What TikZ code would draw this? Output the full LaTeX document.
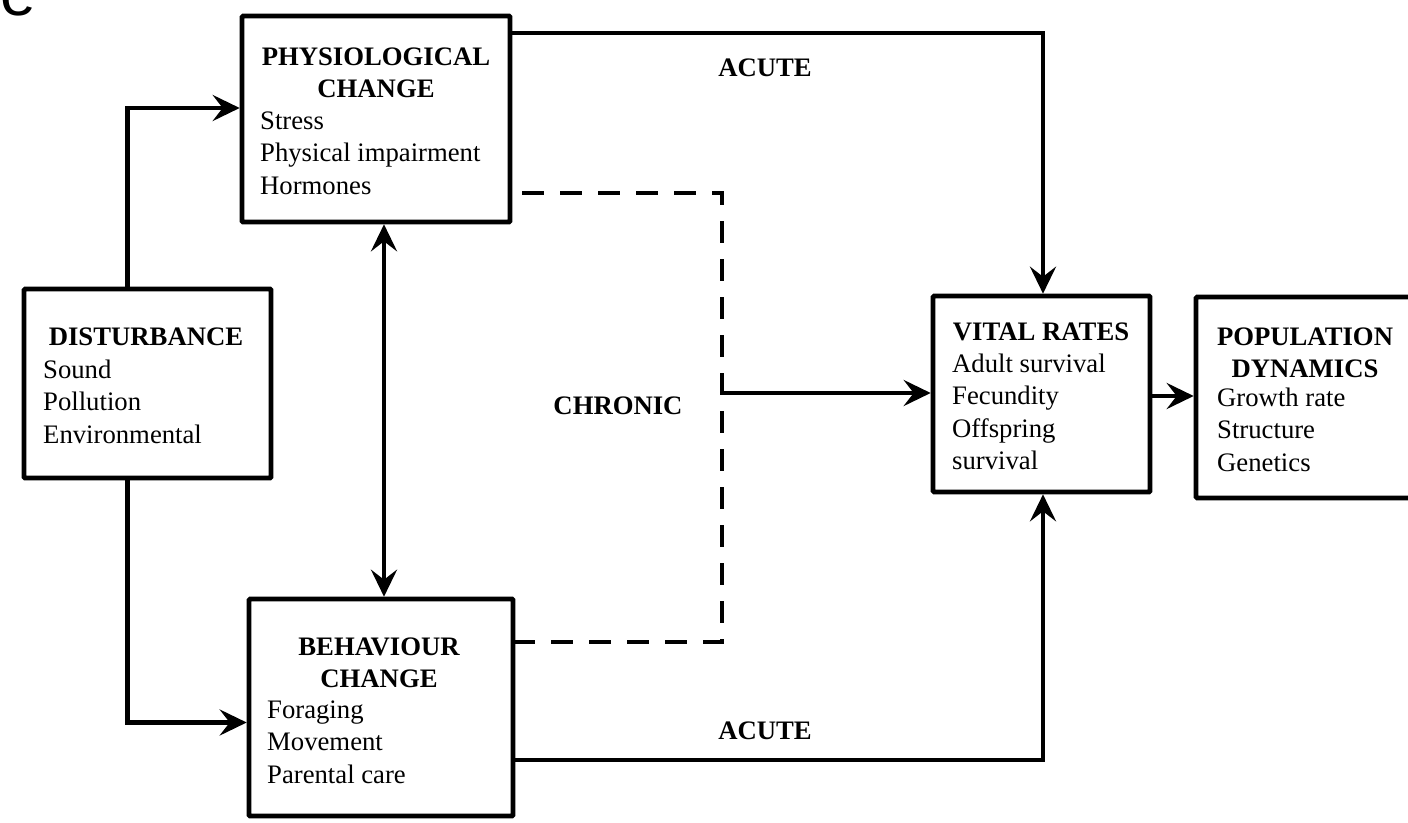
\documentclass[tikz,border=0pt]{standalone}
\usepackage{fontspec}
\setmainfont{Liberation Serif}
\newfontfamily\panelfont{Liberation Sans}
\usetikzlibrary{arrows.meta}

\begin{document}
\begin{tikzpicture}[x=1pt,y=-1pt,
  >={Stealth[length=27pt,width=26pt,inset=10pt]},
  box/.style={draw, line width=4.6pt, inner sep=0pt, rectangle, rounded corners=1pt},
  body/.style={inner sep=0pt, font=\fontsize{26.7}{32.5}\selectfont},
  head/.style={inner sep=0pt, font=\fontsize{26.7}{32.5}\selectfont\bfseries},
  link/.style={line width=4.6pt},
  chronic/.style={line width=4.6pt, dash pattern=on 22pt off 16pt, dash phase=-10pt}
]
\useasboundingbox (0,0) rectangle (1408,822);
\clip (0,0) rectangle (1408,822);

% panel letter
\node[anchor=base west, inner sep=0pt, font=\fontsize{64}{64}\panelfont] (panel) at (0,15) {e};

% boxes
\node[box, minimum width=247pt, minimum height=189pt] (dist)  at (147.5,383.5) {};
\node[box, minimum width=268pt, minimum height=206pt] (phys)  at (376,119) {};
\node[box, minimum width=264pt, minimum height=217pt] (beh)   at (381,707.5) {};
\node[box, minimum width=217pt, minimum height=196pt] (vital) at (1041.5,394) {};
\node[box, minimum width=218pt, minimum height=201pt] (pop)   at (1305,397.5) {};

% box titles
\node[head, anchor=base] (distT)  at (146,345) {DISTURBANCE};
\node[head, anchor=base] (physT)  at (376,65) {\begin{tabular}[t]{@{}c@{}}PHYSIOLOGICAL\\CHANGE\end{tabular}};
\node[head, anchor=base] (behT)   at (379,655) {\begin{tabular}[t]{@{}c@{}}BEHAVIOUR\\CHANGE\end{tabular}};
\node[head, anchor=base] (vitalT) at (1041,340) {VITAL RATES};
\node[head, anchor=base] (popT)   at (1305,345) {\begin{tabular}[t]{@{}c@{}}POPULATION\\DYNAMICS\end{tabular}};

% box contents
\node[body, anchor=base west] (distL)  at (43,378) {\begin{tabular}[t]{@{}l@{}}Sound\\Pollution\\Environmental\end{tabular}};
\node[body, anchor=base west] (physL)  at (260,129) {\begin{tabular}[t]{@{}l@{}}Stress\\Physical impairment\\Hormones\end{tabular}};
\node[body, anchor=base west] (behL)   at (267,718) {\begin{tabular}[t]{@{}l@{}}Foraging\\Movement\\Parental care\end{tabular}};
\node[body, anchor=base west] (vitalL) at (952,372) {\begin{tabular}[t]{@{}l@{}}Adult survival\\Fecundity\\Offspring\\survival\end{tabular}};
\node[body, anchor=base west] (popL)   at (1217,406) {\begin{tabular}[t]{@{}l@{}}Growth rate\\Structure\\Genetics\end{tabular}};

% path labels
\node[head, anchor=base] (acuteTop) at (765,76) {ACUTE};
\node[head, anchor=base] (acuteBot) at (765,739) {ACUTE};
\node[head, anchor=base] (chron)    at (618,414) {CHRONIC};

% connectors
\draw[link,->] ([xshift=-20pt]dist.north) |- ([yshift=11pt]phys.west);
\draw[link,->] ([xshift=-20pt]dist.south) |- ([yshift=-15pt]beh.west);
\draw[link,<->] ([xshift=8pt]phys.south) -- ([xshift=3pt]beh.north);
\draw[link,->] ([yshift=86pt]phys.east) -| ([xshift=1.5pt]vital.north);
\draw[link,->] ([yshift=-52.5pt]beh.east) -| ([xshift=1.5pt]vital.south);
\draw[chronic] ([yshift=-74pt]phys.east) -| (722,642) -- ([yshift=65.5pt]beh.east);
\coordinate (jn) at (722,393);
\draw[link,->] (jn) -- (jn -| vital.west);
\draw[link,->] (vital.east |- 0,396) -- (pop.west |- 0,396);
\end{tikzpicture}
\end{document}
